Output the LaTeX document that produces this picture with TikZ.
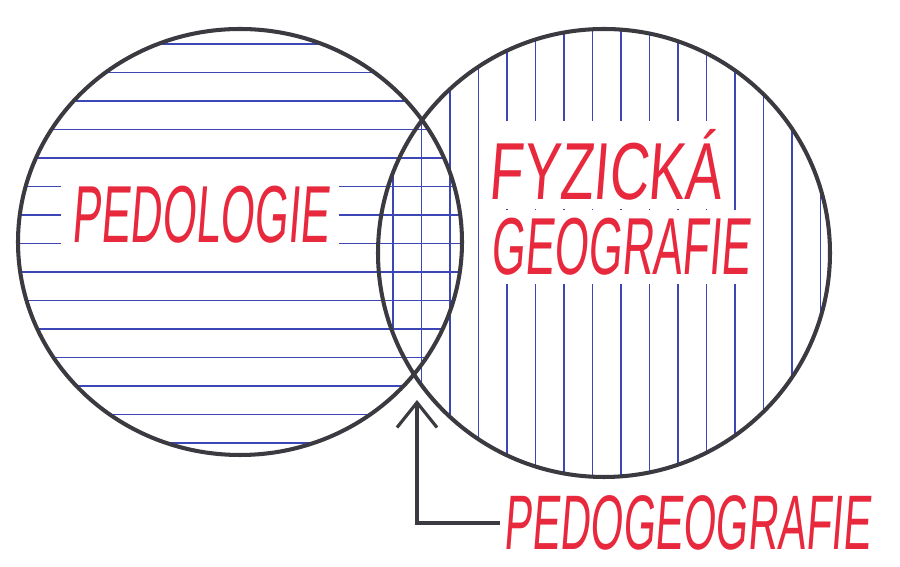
\documentclass[tikz,border=0pt]{standalone}
\usepackage{fontspec}
\newfontfamily\hand[FakeStretch=0.54,FakeSlant=0.08]{Liberation Sans}
\newfontfamily\handwide[FakeStretch=0.68,FakeSlant=0.08]{Liberation Sans}
\usetikzlibrary{arrows.meta}
\definecolor{rim}{HTML}{3A3A40}
\definecolor{hatch}{HTML}{3C46B4}
\definecolor{pen}{HTML}{E8283C}
\begin{document}
\begin{tikzpicture}[
    x=0.02cm, y=0.02cm,
    rim/.style={draw=rim, line width=2.3pt},
    hatchline/.style={draw=hatch, line width=0.7pt},
    lbl/.style={font=\hand\fontsize{46}{50}\selectfont, text=pen, inner sep=2pt},
    blank/.style={fill=white, inner sep=6pt}
]
\useasboundingbox (0,0) rectangle (900,567);

% Circle geometry
\def\pedo{(240,325) ellipse [x radius=222, y radius=213]}
\def\geo{(604,314) ellipse [x radius=226, y radius=224]}

% Hatching
\begin{scope}
  \clip \pedo;
  \foreach \y in {523,494.5,...,120}
    \draw[hatchline] (10,\y) -- (470,\y);
\end{scope}
\begin{scope}
  \clip \geo;
  \foreach \x in {393,421.5,...,830}
    \draw[hatchline] (\x,85) -- (\x,545);
\end{scope}

% Labels
\node[lbl, blank] (pedologie) at (200,352) {PEDOLOGIE};
\node[lbl, blank, inner sep=5pt, font=\handwide\fontsize{46}{50}\selectfont] (fyz) at (605,402) {FYZICKÁ};
\node[lbl, blank, inner sep=5pt] (geog) at (620,320) {GEOGRAFIE};

% Circles
\draw[rim] \pedo;
\draw[rim] \geo;

% Pointer to the overlap
\coordinate (tip) at (417,167);
\node[lbl, anchor=west, font=\hand\fontsize{44}{48}\selectfont] (pedogeo) at (500,44) {PEDOGEOGRAFIE};
\draw[rim, line width=1.8pt, {Straight Barb[length=0.5cm, width=0.8cm, line width=1.8pt]}-]
  (tip) |- (pedogeo.west);

\end{tikzpicture}
\end{document}
